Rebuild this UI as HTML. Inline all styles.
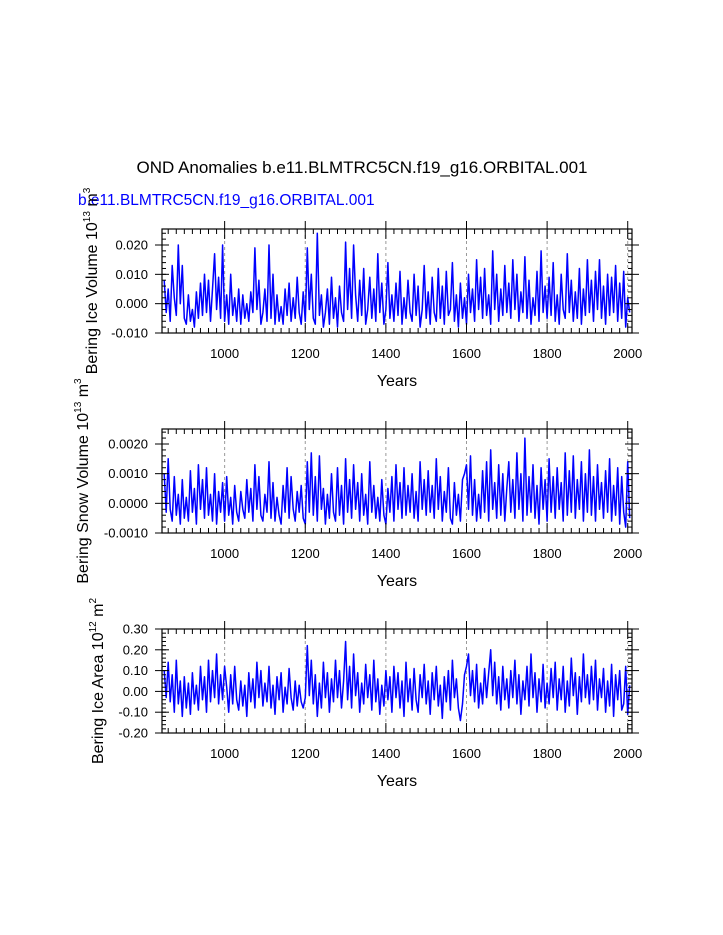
<!DOCTYPE html>
<html><head><meta charset="utf-8"><style>
body{margin:0;background:#fff}
svg{display:block;font-family:"Liberation Sans",sans-serif}
</style></head><body>
<svg id="c" width="723" height="935" viewBox="0 0 723 935">
<text x="362" y="173" font-size="17" text-anchor="middle">OND Anomalies b.e11.BLMTRC5CN.f19_g16.ORBITAL.001</text>
<text x="78" y="205" font-size="15.5" fill="#0000ff">b.e11.BLMTRC5CN.f19_g16.ORBITAL.001</text>
</svg>
<script>
const startYear = 850, stepYears = 5;
const xTicks = [1000,1200,1400,1600,1800,2000];
// Ice volume in units of 0.001 (x10^13 m^3)
const iceVol = [8,-3,5,-6,13,2,-4,20,0,13,-5,
-7,3,-6,-2,-8,4,-5,7,-4,10,-3,8,-6,5,17,-2,9,-5,20,-6,
3,-7,10,-4,2,-6,5,-7,3,-5,0,-6,4,-3,19,-2,8,-7,-3,5,
-6,20,-5,10,-7,3,-6,-1,-7,5,-4,7,-6,2,-5,9,-3,-7,4,-6,
19,-2,10,-5,-7,24,-4,3,-8,-3,5,-7,9,-5,2,-8,6,-3,-6,21,
-2,12,-5,20,3,-6,8,-4,12,-7,-2,9,-5,5,-6,17,-3,7,-7,-2,
14,-5,3,-6,7,-4,11,-7,2,-5,8,-3,-6,10,-4,6,-8,-2,13,-5,
4,-7,9,-3,-6,12,-5,6,-7,11,-4,-2,14,-6,3,-8,7,-5,2,-7,
10,-3,5,-6,15,-2,9,-5,12,-4,3,-7,18,-2,10,-6,5,-4,13,-3,
7,-5,15,-2,10,-6,4,-3,16,-5,8,-7,2,-4,11,-6,18,-3,6,-5,
9,-4,14,-6,3,-7,10,-2,-5,17,-3,8,-6,4,-5,12,-7,5,-4,15,
-3,8,-6,11,-2,15,-5,6,-7,10,-4,9,-3,13,-6,7,-5,11,-8,2,-3];
// Snow volume in units of 0.0001
const snowVol = [10,-3,15,-2,-6,9,-4,3,-7,8,-5,
2,-6,11,-3,5,-7,13,-2,8,-5,12,-4,3,-6,10,-7,4,-3,7,-6,
9,-4,2,-7,6,-3,-6,4,-2,-5,8,-3,5,-6,13,-2,9,-4,-6,3,
-3,14,-5,7,-6,2,-4,-7,6,-3,12,-5,9,-2,-6,4,-3,6,-5,-7,
14,-3,17,-4,9,-6,16,-2,5,-7,3,-5,10,-3,-6,12,-4,6,-7,15,
-3,8,-5,13,-2,7,-6,10,-4,3,-7,14,-3,6,-5,2,-6,8,-4,-7,
5,-3,9,-6,13,-2,7,-5,12,-4,6,-3,10,-5,4,-6,14,-2,8,-4,
11,-3,6,-5,15,-2,9,-6,4,-3,12,-5,-7,7,-4,3,-6,8,10,13,
-2,16,-4,8,-6,3,-5,11,-3,14,-6,18,-2,7,-5,13,-4,10,-6,5,
14,-3,8,-5,17,-2,10,-6,22,-4,9,-3,13,-5,6,-7,12,-2,8,-6,
15,-3,9,-5,12,-2,7,-6,17,-4,11,-3,16,-5,8,-2,14,-6,10,-3,
18,-4,9,-6,13,-2,7,-5,11,-3,15,-6,6,-4,12,-7,9,-3,-8,14,-5];
// Ice area in units of 0.01 (x10^12 m^2)
const iceArea = [10,-3,14,-5,8,-10,15,-6,5,-12,7,
-8,4,-11,9,-6,3,-9,12,-4,7,-10,15,-5,10,-3,18,-6,8,-4,12,
2,-10,8,-6,12,-4,-9,5,-7,3,-12,9,-5,6,-8,14,-3,10,-7,4,
-5,12,-8,3,-11,7,-4,9,-10,2,-6,11,-3,-9,5,-7,3,-5,-8,-3,
22,-2,15,-6,8,-12,4,-8,14,-3,9,-10,6,-5,15,-3,10,-8,5,24,
-4,12,-8,18,-2,9,-10,4,-6,13,-3,8,-9,15,-5,6,-11,3,-7,10,
-4,7,-10,12,-3,9,-8,5,-12,14,-5,6,-9,11,-4,-10,8,-3,13,-6,
5,-11,9,-4,12,-7,3,-13,7,-5,10,-9,15,-3,6,-8,-14,-6,8,12,
18,-2,10,-5,13,-8,4,-6,11,-3,9,20,-2,14,-6,7,-9,12,-4,6,
-8,10,-3,15,-6,8,-11,5,-4,12,-7,18,-3,9,-10,6,-5,13,-8,4,
-6,11,-3,14,-9,6,-4,12,-10,5,-7,16,-2,9,-11,7,-5,18,-3,8,
-6,12,-4,15,-9,6,-3,11,-10,5,-7,13,-12,8,-4,10,-9,-6,12,-11,3];
const iceTicks = ["-0.010","0.000","0.010","0.020"];
const snowTicks = ["-0.0010","0.0000","0.0010","0.0020"];
const areaTicks = ["-0.20","-0.10","0.00","0.10","0.20","0.30"];

const NS="http://www.w3.org/2000/svg";
const svg=document.getElementById('c');
function mk(tag,attrs,parent){const e=document.createElementNS(NS,tag);for(const k in attrs)e.setAttribute(k,attrs[k]);(parent||svg).appendChild(e);return e;}
const X0=162,X1=632,xMin=844.6,xMax=2010.6;
function xs(y){return X0+(y-xMin)/(xMax-xMin)*(X1-X0);}

function panel(cfg){
  const top=cfg.top,bot=top+104;
  const ys=v=>cfg.py0+(v-cfg.v0)/(cfg.v1-cfg.v0)*(cfg.py1-cfg.py0);
  const g=mk('g',{});
  
  
  xTicks.forEach(t=>{const l=mk('line',{x1:xs(t),x2:xs(t),y1:top,y2:bot,stroke:'#999','stroke-dasharray':'3,3','stroke-width':1},g);
    });
  const data=cfg.data;let d='';
  data.forEach((v,i)=>{d+=(i?'L':'M')+xs(startYear+i*stepYears).toFixed(1)+','+ys(v*cfg.scale).toFixed(1);});
  const p=mk('path',{d:d,fill:'none',stroke:'#0000ff','stroke-width':1.5,'stroke-linejoin':'round'},g);
  
  const r=mk('rect',{x:X0,y:top,width:X1-X0,height:104,fill:'none',stroke:'#000','stroke-width':1.2},g);
  
  for(let t=860;t<=2000;t+=20){const major=t%200===0;const x=xs(t);
    mk('line',{x1:x,x2:x,y1:bot,y2:bot-(major?10:5),stroke:'#000'},g);
    mk('line',{x1:x,x2:x,y1:top,y2:top+(major?10:5),stroke:'#000'},g);
    if(major){mk('line',{x1:x,x2:x,y1:top,y2:top-8,stroke:'#000'},g);}
  }
  xTicks.forEach(t=>{const tx=mk('text',{x:xs(t),y:bot+25,'font-size':13,'text-anchor':'middle'},g);tx.textContent=t;
    });
  cfg.ticks.forEach(s=>{const v=parseFloat(s);const y=ys(v);
    mk('line',{x1:X0-7,x2:X0+7,y1:y,y2:y,stroke:'#000'},g);
    mk('line',{x1:X1-7,x2:X1+7,y1:y,y2:y,stroke:'#000'},g);
    const tx=mk('text',{x:X0-14,y:y+4.5,'font-size':13,'text-anchor':'end'},g);tx.textContent=s;
    });
  const step=(parseFloat(cfg.ticks[1])-parseFloat(cfg.ticks[0]))/5;
  for(let v=parseFloat(cfg.ticks[0]);ys(v)>=top-0.5;v+=step){const y=ys(v);
    mk('line',{x1:X0,x2:X0+4,y1:y,y2:y,stroke:'#000'},g);mk('line',{x1:X1,x2:X1-4,y1:y,y2:y,stroke:'#000'},g);}
  const xl=mk('text',{x:397,y:bot+53,'font-size':16,'text-anchor':'middle'},g);xl.textContent='Years';
  
  const yl=mk('text',{transform:`translate(${cfg.lx},${top+52}) rotate(-90)`,'font-size':16,'text-anchor':'middle'},g);
  yl.innerHTML=cfg.label;
  
}
panel({name:'ice-volume-panel',top:229,data:iceVol,scale:0.001,v0:0.020,v1:-0.010,py0:245,py1:333,ticks:iceTicks,lx:97,
  label:'Bering Ice Volume 10<tspan dy="-7" font-size="10">13</tspan><tspan dy="7"> m</tspan><tspan dy="-7" font-size="10">3</tspan>'});
panel({name:'snow-volume-panel',top:429,data:snowVol,scale:0.0001,v0:0.0020,v1:-0.0010,py0:444,py1:533,ticks:snowTicks,lx:88,
  label:'Bering Snow Volume 10<tspan dy="-7" font-size="10">13</tspan><tspan dy="7"> m</tspan><tspan dy="-7" font-size="10">3</tspan>'});
panel({name:'ice-area-panel',top:629,data:iceArea,scale:0.01,v0:0.30,v1:-0.20,py0:629,py1:733,ticks:areaTicks,lx:103,
  label:'Bering Ice Area 10<tspan dy="-7" font-size="10">12</tspan><tspan dy="7"> m</tspan><tspan dy="-7" font-size="10">2</tspan>'});
</script>
</body></html>
